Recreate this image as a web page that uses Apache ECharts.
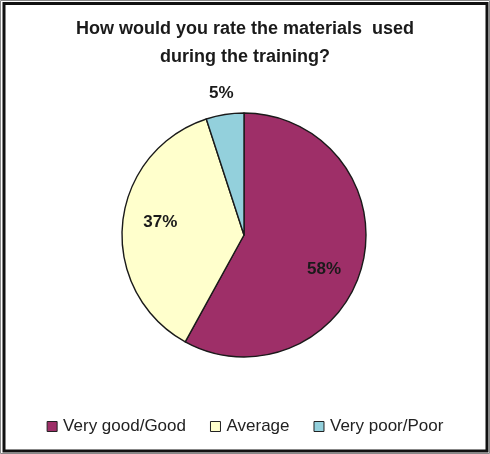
<!DOCTYPE html>
<html>
<head>
<meta charset="utf-8">
<script src="https://cdn.jsdelivr.net/npm/echarts@6/dist/echarts.min.js"></script>
<style>
  html, body { margin: 0; padding: 0; background: #fff; }
  #chart { width: 490px; height: 454px; }
</style>
</head>
<body>
<div id="chart"></div>
<script>
// Survey answers and their shares (percent)
const categories = ['Very good/Good', 'Average', 'Very poor/Poor'];
const shares = [58, 37, 5];
const sliceColors = ['#9E2F68', '#FFFFCC', '#93D0DC'];
// Label nudges so the percentages sit where they read best
const labelOffsets = [[18, 18], [-20, -7], [46, -6]];

const chart = echarts.init(document.getElementById('chart'), null, { renderer: 'canvas' });

const pieData = categories.map((name, i) => {
  const item = {
    name: name,
    value: shares[i],
    itemStyle: { color: sliceColors[i] },
    label: { offset: labelOffsets[i] }
  };
  if (i === 2) {
    item.label = { position: 'outside', distance: 8, offset: labelOffsets[i] };
    item.labelLine = { show: false };
  }
  return item;
});

chart.setOption({
  animation: false,
  backgroundColor: '#ffffff',
  title: {
    text: 'How would you rate the materials  used\nduring the training?',
    left: 'center',
    top: 10,
    textStyle: {
      fontFamily: 'Liberation Sans, Arial, sans-serif',
      fontWeight: 'bold',
      fontSize: 18,
      lineHeight: 28,
      color: '#1a1a1a'
    }
  },
  legend: {
    bottom: 14,
    left: 'center',
    itemWidth: 10,
    itemHeight: 10,
    itemGap: 24,
    icon: 'rect',
    textStyle: {
      fontFamily: 'Liberation Sans, Arial, sans-serif',
      fontSize: 17,
      color: '#222',
      padding: [0, 0, 0, 1]
    },
    itemStyle: { borderColor: '#222', borderWidth: 1 },
    data: categories
  },
  graphic: [
    { type: 'rect', shape: { x: 0.5, y: 0.5, width: 489, height: 453 },
      style: { fill: 'none', stroke: '#888', lineWidth: 1 }, silent: true },
    { type: 'rect', shape: { x: 4, y: 3.5, width: 483, height: 447.5 },
      style: { fill: 'none', stroke: '#111', lineWidth: 3 }, silent: true }
  ],
  series: [{
    type: 'pie',
    center: [244, 235],
    radius: [0, 122],
    startAngle: 90,
    clockwise: true,
    avoidLabelOverlap: false,
    itemStyle: { borderColor: '#1a1a1a', borderWidth: 1.4 },
    label: {
      show: true,
      position: 'inside',
      formatter: '{c}%',
      fontFamily: 'Liberation Sans, Arial, sans-serif',
      fontWeight: 'bold',
      fontSize: 17,
      color: '#1a1a1a'
    },
    emphasis: { disabled: true },
    data: pieData
  }]
});
</script>
</body>
</html>
